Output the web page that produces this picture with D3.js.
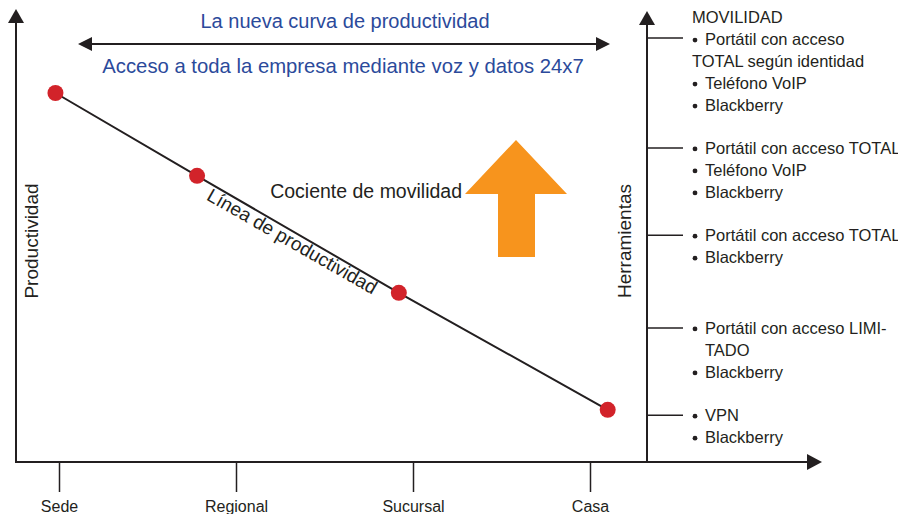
<!DOCTYPE html>
<html>
<head>
<meta charset="utf-8">
<script src="https://cdn.jsdelivr.net/npm/d3@7"></script>
<style>
  body { margin: 0; background: #ffffff; }
  svg text { font-family: "Liberation Sans", Arial, sans-serif; }
</style>
</head>
<body>
<div id="chart"></div>
<script>
// categories on the bottom axis
const locations = ['Sede', 'Regional', 'Sucursal', 'Casa'];
// productivity points: x position (in category units) and productivity value
const pointPos = [-0.02, 0.78, 1.92, 3.1];
const productivity = [82, 63.6, 37.6, 11.6];
// tool levels on the right axis (same 0-100 scale)
const toolLevels = [94.2, 69.8, 50.4, 29.8, 10.4];
const toolLines = [
  [{ t: 'MOVILIDAD', head: true }, { t: 'Portátil con acceso', b: true }, { t: 'TOTAL según identidad', head: true },
   { t: 'Teléfono VoIP', b: true }, { t: 'Blackberry', b: true }],
  [{ t: 'Portátil con acceso TOTAL', b: true }, { t: 'Teléfono VoIP', b: true }, { t: 'Blackberry', b: true }],
  [{ t: 'Portátil con acceso TOTAL', b: true }, { t: 'Blackberry', b: true }],
  [{ t: 'Portátil con acceso LIMI-', b: true }, { t: 'TADO' }, { t: 'Blackberry', b: true }],
  [{ t: 'VPN', b: true }, { t: 'Blackberry', b: true }]
];
const titleText = 'La nueva curva de productividad';
const subtitleText = 'Acceso a toda la empresa mediante voz y datos 24x7';

const W = 898, H = 514;
const ink = '#231f20', blue = '#2b4a9b', red = '#d2232a', orange = '#f7941d';

const svg = d3.select('#chart').append('svg')
  .attr('width', W).attr('height', H);

const x = d3.scaleLinear().domain([0, 3]).range([59, 590]);
const y = d3.scaleLinear().domain([0, 100]).range([462, 12]);

const axisLeftX = 16, axisRightX = 647, baseY = y(0);

// left axis with arrow
svg.append('line')
  .attr('x1', axisLeftX).attr('x2', axisLeftX)
  .attr('y1', baseY + 1).attr('y2', 20)
  .attr('stroke', ink).attr('stroke-width', 2);
svg.append('path')
  .attr('d', `M${axisLeftX},9 L${axisLeftX - 8},23 L${axisLeftX + 8},23 Z`)
  .attr('fill', ink);

// bottom axis with arrow
svg.append('line')
  .attr('x1', axisLeftX).attr('x2', 810)
  .attr('y1', baseY).attr('y2', baseY)
  .attr('stroke', ink).attr('stroke-width', 2);
svg.append('path')
  .attr('d', `M822,${baseY} L807,${baseY - 8} L807,${baseY + 8} Z`)
  .attr('fill', ink);

// bottom ticks and labels
const xAxis = d3.axisBottom(x).tickValues([0, 1, 2, 3])
  .tickFormat((d) => locations[d]).tickSize(30).tickPadding(9);
const gx = svg.append('g').attr('transform', `translate(0,${baseY})`).call(xAxis);
gx.select('.domain').remove();
gx.selectAll('.tick line').attr('stroke', ink).attr('stroke-width', 1.5);
gx.selectAll('.tick text')
  .style('font-size', '16px').attr('fill', ink)
  .style('font-family', '"Liberation Sans", Arial, sans-serif');

// right axis with arrow
svg.append('line')
  .attr('x1', axisRightX).attr('x2', axisRightX)
  .attr('y1', baseY).attr('y2', 22)
  .attr('stroke', ink).attr('stroke-width', 2);
svg.append('path')
  .attr('d', `M${axisRightX},11 L${axisRightX - 8},25 L${axisRightX + 8},25 Z`)
  .attr('fill', ink);

// right ticks
svg.append('g').selectAll('line')
  .data(toolLevels).enter().append('line')
  .attr('x1', axisRightX).attr('x2', 683)
  .attr('y1', (d) => y(d)).attr('y2', (d) => y(d))
  .attr('stroke', ink).attr('stroke-width', 1.5);

// tool text blocks
const lineH = 22;
toolLevels.forEach((lvl, i) => {
  const lines = toolLines[i];
  const startY = y(lvl) - (i === 0 ? lineH - 1 : 0);
  lines.forEach((ln, j) => {
    const ty = startY + j * lineH;
    if (ln.b) {
      svg.append('circle')
        .attr('cx', 695).attr('cy', ty + 1).attr('r', 2.4).attr('fill', ink);
    }
    svg.append('text')
      .attr('x', ln.head ? 692 : 705).attr('y', ty).attr('dy', '0.35em')
      .style('font-size', '16.5px').attr('fill', ink)
      .text(ln.t);
  });
});

// axis titles
svg.append('text')
  .attr('transform', `translate(38,241) rotate(-90)`)
  .attr('text-anchor', 'middle')
  .style('font-size', '19px').attr('fill', ink)
  .text('Productividad');
svg.append('text')
  .attr('transform', `translate(631,241) rotate(-90)`)
  .attr('text-anchor', 'middle')
  .style('font-size', '19px').attr('fill', ink)
  .text('Herramientas');

// title, double arrow, subtitle
svg.append('text')
  .attr('x', 345).attr('y', 21).attr('dy', '0.35em')
  .attr('text-anchor', 'middle')
  .style('font-size', '20px').attr('fill', blue)
  .text(titleText);
svg.append('line')
  .attr('x1', 88).attr('x2', 600).attr('y1', 44).attr('y2', 44)
  .attr('stroke', ink).attr('stroke-width', 2);
svg.append('path').attr('d', 'M78,44 L92,37 L92,51 Z').attr('fill', ink);
svg.append('path').attr('d', 'M610,44 L596,37 L596,51 Z').attr('fill', ink);
svg.append('text')
  .attr('x', 343).attr('y', 66).attr('dy', '0.35em')
  .attr('text-anchor', 'middle')
  .style('font-size', '20.3px').attr('fill', blue)
  .text(subtitleText);

// productivity line and points
const pts = productivity.map((v, i) => ({ px: pointPos[i], v: v }));
svg.append('path')
  .datum(pts)
  .attr('d', d3.line().x((d) => x(d.px)).y((d) => y(d.v)))
  .attr('fill', 'none').attr('stroke', ink).attr('stroke-width', 2);
svg.append('g').selectAll('circle')
  .data(pts).enter().append('circle')
  .attr('cx', (d) => x(d.px)).attr('cy', (d) => y(d.v))
  .attr('r', 8).attr('fill', red);

// label along the line
const p0 = pts[0], p3 = pts[pts.length - 1];
const ang = Math.atan2(y(p3.v) - y(p0.v), x(p3.px) - x(p0.px)) * 180 / Math.PI;
svg.append('text')
  .attr('transform', `translate(289,247) rotate(${ang})`)
  .attr('text-anchor', 'middle')
  .style('font-size', '19px').attr('fill', ink)
  .text('Línea de productividad');

// mobility quotient arrow
svg.append('text')
  .attr('x', 462).attr('y', 191).attr('dy', '0.35em')
  .attr('text-anchor', 'end')
  .style('font-size', '19.5px').attr('fill', ink)
  .text('Cociente de movilidad');
svg.append('path')
  .attr('d', 'M516,140 L567,194 L535,194 L535,257 L498,257 L498,194 L465,194 Z')
  .attr('fill', orange);
</script>
</body>
</html>
